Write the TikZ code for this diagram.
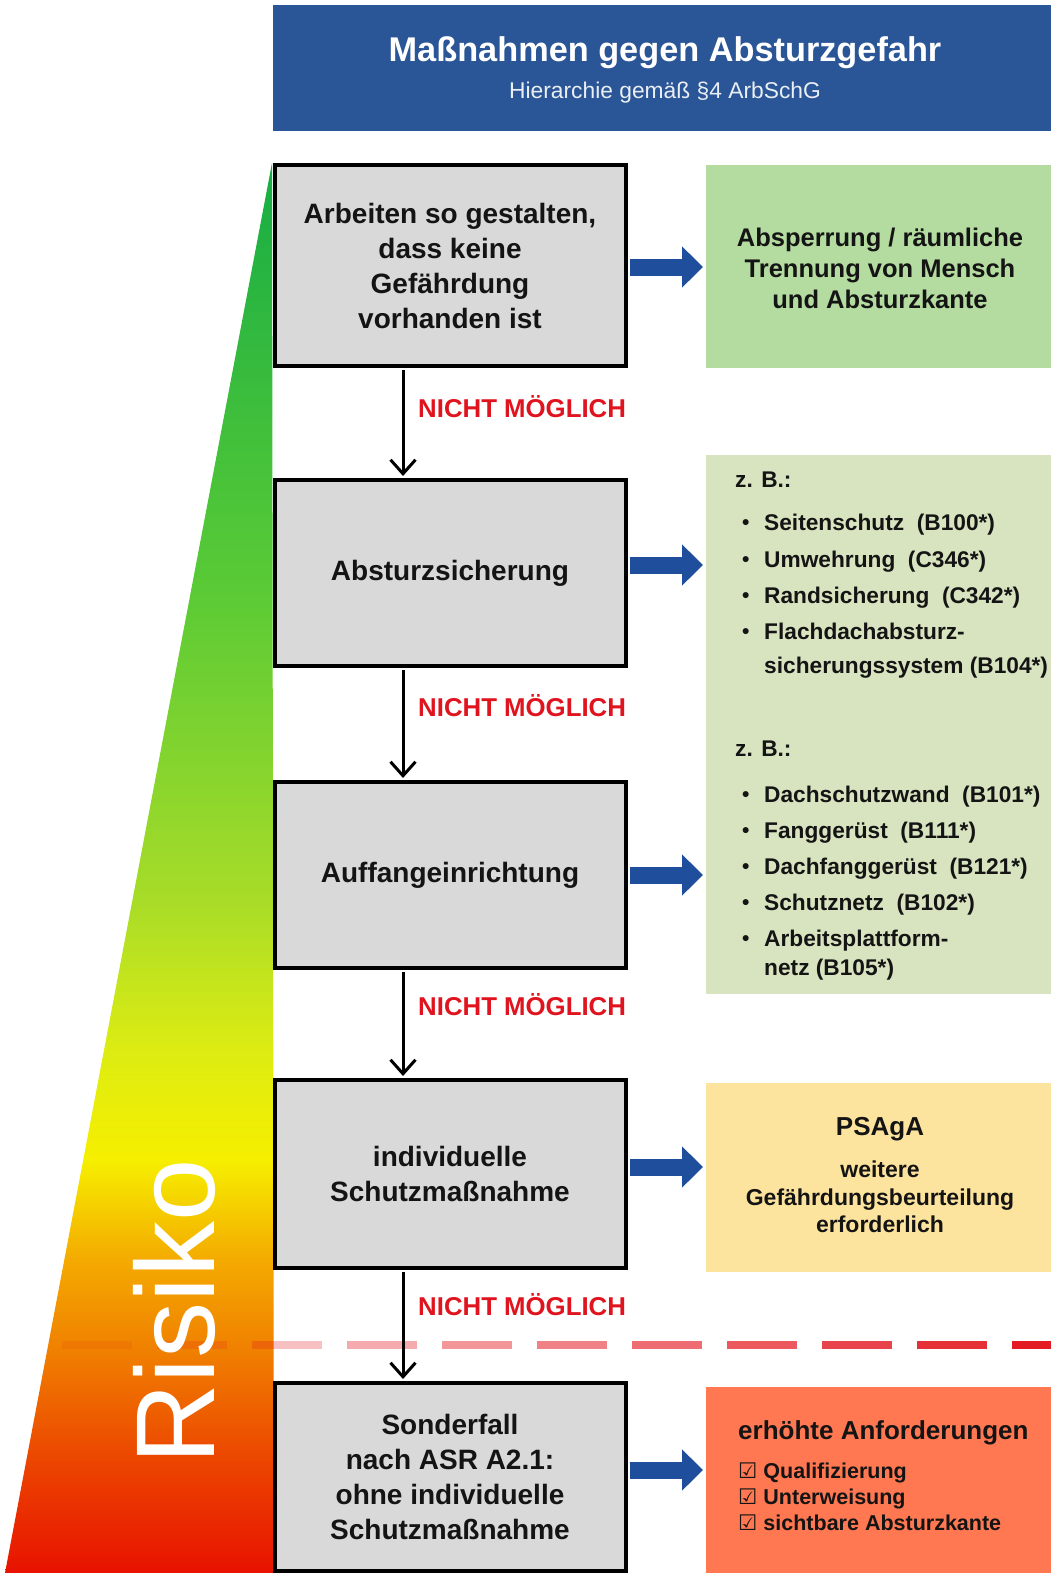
\documentclass[tikz,border=0pt]{standalone}
\usepackage{fontspec}
\setmainfont{Liberation Sans}
\newfontfamily\symfont{DejaVu Sans}
\usetikzlibrary{arrows.meta}
\definecolor{hdr}{HTML}{2A5596}
\definecolor{arrblue}{HTML}{1F4F9C}
\definecolor{boxgray}{HTML}{D9D9D9}
\definecolor{grn1}{HTML}{B4DBA0}
\definecolor{grn2}{HTML}{D8E4C0}
\definecolor{yel}{HTML}{FDE49E}
\definecolor{org}{HTML}{FF7852}
\definecolor{nmred}{HTML}{E0141E}
\definecolor{dashred}{HTML}{E31B23}
\definecolor{txt}{HTML}{141414}
\definecolor{rk0}{HTML}{E81200}
\definecolor{rk1}{HTML}{EC4A00}
\definecolor{rk2}{HTML}{F08000}
\definecolor{rk3}{HTML}{F4AA00}
\definecolor{rk4}{HTML}{F6EF00}
\definecolor{rk5}{HTML}{DDEC12}
\definecolor{rk6}{HTML}{A8DC28}
\definecolor{rk7}{HTML}{5CCB35}
\definecolor{rk8}{HTML}{17AD45}
\pgfdeclareverticalshading{risk}{100bp}{color(0bp)=(rk0); color(25bp)=(rk0); color(29.35bp)=(rk1); color(32.9bp)=(rk2); color(36.1bp)=(rk3); color(39.65bp)=(rk4); color(43.5bp)=(rk5); color(48.85bp)=(rk6); color(59.5bp)=(rk7); color(75bp)=(rk8); color(100bp)=(rk8)}
\newcommand\blt{\makebox[29pt][l]{\hspace{7pt}\raisebox{0.5pt}{\fontsize{21}{21}\selectfont\textbullet}}}
\newcommand\cbx{{\symfont ☑}}
\begin{document}
\begin{tikzpicture}[x=1pt,y=-1pt,
  gbox/.style={draw=black, line width=4pt, fill=boxgray, minimum width=351pt, align=center, font=\bfseries\fontsize{28}{35}\selectfont, text=txt, inner sep=0pt},
  rbox/.style={minimum width=345pt, inner sep=0pt, anchor=north west},
  lst/.style={anchor=west, font=\bfseries\fontsize{22.7}{27}\selectfont, text=txt, inner sep=0pt, text height=17pt, text depth=5pt},
  nm/.style={anchor=west, text=nmred, font=\bfseries\fontsize{25.8}{30}\selectfont, inner sep=0pt},
  varrow/.style={line width=3pt, -{Straight Barb[length=14pt,width=25pt]}, shorten >=2pt, shorten <=2pt},
  barrow/.style={arrblue, line width=17pt, -{Triangle[length=21pt,width=40pt]}, shorten <=2pt, shorten >=3pt}
]
\useasboundingbox (0,0) rectangle (1051,1573);
% header
\node[fill=hdr, minimum width=778pt, minimum height=126pt, inner sep=0pt, anchor=north west] (hd) at (273,5) {};
\node[text=white, font=\bfseries\fontsize{34.3}{40}\selectfont] (tt) at (665,53) {Maßnahmen gegen Absturzgefahr};
\node[text=white!90!hdr, font=\fontsize{22.8}{26}\selectfont] (st) at (665,93) {Hierarchie gemäß §4 ArbSchG};
% risk triangle
\shade[shading=risk] (272,163) -- (5,1573) -- (274,1573) -- cycle;
% dashed limit line
\foreach \k in {0,...,10}{
  \pgfmathsetmacro\op{0.1+0.09*\k}
  \draw[dashred, line width=8pt, draw opacity=\op] (62+95*\k,1345) -- ++(70,0);
}
\node[rotate=90, text=white, font=\fontsize{112}{112}\selectfont, inner sep=0pt] (risk) at (174,1312) {Risiko};
% left boxes
\node[gbox, minimum height=201pt] (b1) at (450,265.5) {Arbeiten so gestalten,\\dass keine\\Gefährdung\\vorhanden ist};
\node[gbox, minimum height=186pt] (b2) at (450,573) {Absturzsicherung};
\node[gbox, minimum height=186pt] (b3) at (450,875) {Auffangeinrichtung};
\node[gbox, minimum height=188pt] (b4) at (450,1174) {individuelle\\Schutzmaßnahme};
\node[gbox, minimum height=188pt] (b5) at (450,1477) {Sonderfall\\nach ASR A2.1:\\ohne individuelle\\Schutzmaßnahme};
% right boxes
\node[rbox, fill=grn1, minimum height=203pt] (g1) at (706,165) {};
\node[rbox, fill=grn2, minimum height=539pt] (g2) at (706,455) {};
\node[rbox, fill=yel, minimum height=189pt] (y1) at (706,1083) {};
\node[rbox, fill=org, minimum height=190pt] (o1) at (706,1387) {};
% right texts
\node[font=\bfseries\fontsize{25.5}{31}\selectfont, align=center, text=txt] (g1t) at (880,268.5) {Absperrung / räumliche\\Trennung von Mensch\\und Absturzkante};
\node[lst] (l1) at (735,481) {z. B.:};
\node[lst] (l2) at (735,524) {\blt Seitenschutz~~(B100*)};
\node[lst] (l3) at (735,561) {\blt Umwehrung~~(C346*)};
\node[lst] (l4) at (735,597) {\blt Randsicherung~~(C342*)};
\node[lst] (l5) at (735,633) {\blt Flachdachabsturz-};
\node[lst] (l6) at (735,667) {\hspace*{29pt}sicherungssystem (B104*)};
\node[lst] (m1) at (735,750) {z. B.:};
\node[lst] (m2) at (735,796) {\blt Dachschutzwand~~(B101*)};
\node[lst] (m3) at (735,832) {\blt Fanggerüst~~(B111*)};
\node[lst] (m4) at (735,868) {\blt Dachfanggerüst~~(B121*)};
\node[lst] (m5) at (735,904) {\blt Schutznetz~~(B102*)};
\node[lst] (m6) at (735,940) {\blt Arbeitsplattform-};
\node[lst] (m7) at (735,969) {\hspace*{29pt}netz (B105*)};
\node[font=\bfseries\fontsize{26}{30}\selectfont, text=txt] (yt1) at (880,1129) {PSAgA};
\node[font=\bfseries\fontsize{23}{27.5}\selectfont, align=center, text=txt] (yt2) at (880,1197) {weitere\\Gefährdungsbeurteilung\\erforderlich};
\node[anchor=west, font=\bfseries\fontsize{26}{30}\selectfont, text=txt, inner sep=0pt] (ot1) at (738,1433) {erhöhte Anforderungen};
\node[anchor=west, font=\bfseries\fontsize{21.5}{26}\selectfont, text=txt, align=left, inner sep=0pt] (ot2) at (738,1497) {\cbx{} Qualifizierung\\\cbx{} Unterweisung\\\cbx{} sichtbare Absturzkante};
% NICHT MOEGLICH labels
\node[nm] (n1) at (418,407) {NICHT MÖGLICH};
\node[nm] (n2) at (418,706) {NICHT MÖGLICH};
\node[nm] (n3) at (418,1005) {NICHT MÖGLICH};
\node[nm] (n4) at (418,1305) {NICHT MÖGLICH};
% vertical arrows
\coordinate (ax) at (403,0);
\draw[varrow] (ax |- b1.south) -- (ax |- b2.north);
\draw[varrow] (ax |- b2.south) -- (ax |- b3.north);
\draw[varrow] (ax |- b3.south) -- (ax |- b4.north);
\draw[varrow] (ax |- b4.south) -- (ax |- b5.north);
% blue arrows
\draw[barrow] ([yshift=-1.5pt]b1.east) -- ([yshift=-1.5pt]b1.east -| g1.west);
\draw[barrow] ([yshift=8pt]b2.east) -- ([yshift=8pt]b2.east -| g2.west);
\draw[barrow] (b3.east) -- (b3.east -| g2.west);
\draw[barrow] ([yshift=7pt]b4.east) -- ([yshift=7pt]b4.east -| y1.west);
\draw[barrow] ([yshift=7pt]b5.east) -- ([yshift=7pt]b5.east -| o1.west);
\end{tikzpicture}
\end{document}
